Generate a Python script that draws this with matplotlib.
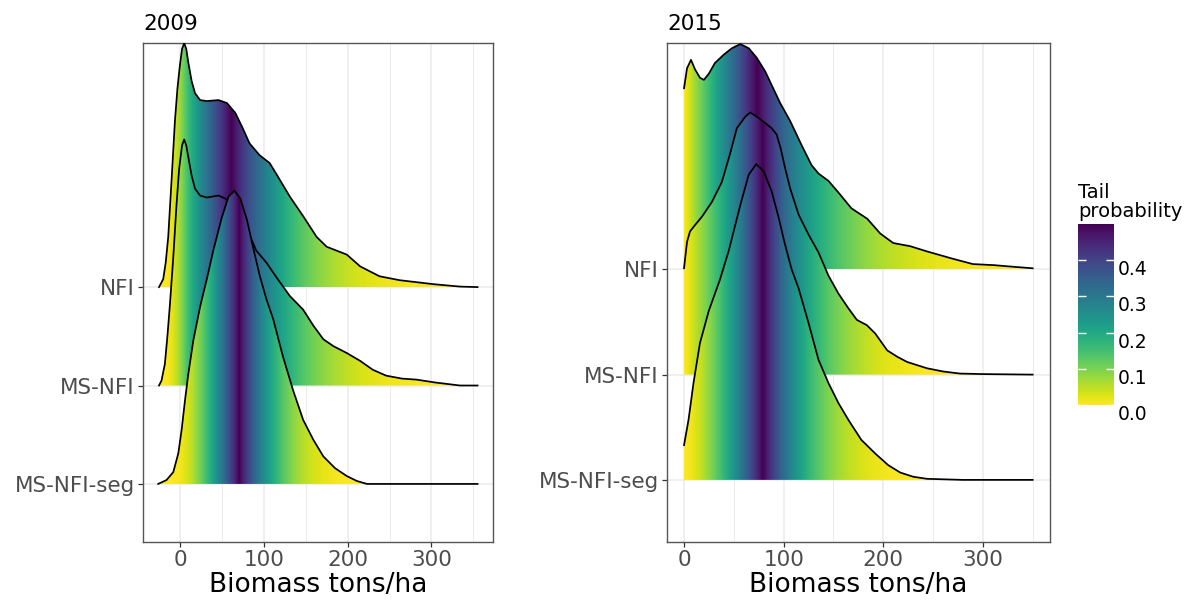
import numpy as np
import matplotlib.pyplot as plt
from matplotlib.patches import Polygon
from matplotlib.colors import Normalize
from matplotlib.cm import ScalarMappable

# Categorias (de abajo hacia arriba)
groups = ["MS-NFI-seg", "MS-NFI", "NFI"]
years = ["2009", "2015"]

# Curvas de densidad (altura en unidades de fila)
# 2009
x09_nfi = [-25, -20, -17, -14, -10, -6, -3, 0, 2.5, 5, 7.5, 10, 14, 18, 24, 32, 46, 56, 66, 74, 83,
           95, 107, 117, 131, 147, 163, 175, 190, 199, 215, 238, 262, 282, 302, 334, 355]
h09_nfi = [0, 0.08, 0.25, 0.51, 1.09, 1.69, 2.02, 2.26, 2.42, 2.48, 2.42, 2.28, 2.09, 1.97, 1.90,
           1.89, 1.90, 1.87, 1.77, 1.63, 1.46, 1.34, 1.26, 1.12, 0.92, 0.72, 0.51, 0.41, 0.36, 0.33,
           0.21, 0.11, 0.07, 0.05, 0.03, 0.005, 0]
x09_ms = [-25, -22, -18, -15, -12, -8, -4, -1, 2.5, 5, 7.5, 10, 14, 18, 24, 32, 46, 54, 62, 72, 82,
          91, 103, 115, 131, 147, 159, 171, 183, 199, 215, 230, 246, 265, 282, 305, 334, 355]
h09_ms = [0, 0.05, 0.22, 0.50, 0.82, 1.30, 1.85, 2.20, 2.44, 2.50, 2.44, 2.32, 2.13, 2.00, 1.93,
          1.91, 1.93, 1.90, 1.84, 1.72, 1.55, 1.37, 1.25, 1.10, 0.91, 0.77, 0.61, 0.47, 0.40, 0.33,
          0.25, 0.16, 0.10, 0.07, 0.06, 0.03, 0.0, 0]
x09_seg = [-26, -16, -8, -2, 2, 6, 10, 16, 24, 32, 40, 50, 58, 65, 72, 80, 87, 95, 103, 111, 123,
           135, 147, 159, 171, 185, 199, 211, 223, 260, 300, 355]
h09_seg = [0, 0.04, 0.12, 0.31, 0.55, 0.85, 1.12, 1.46, 1.80, 2.08, 2.38, 2.71, 2.92, 2.98, 2.90,
           2.68, 2.41, 2.12, 1.88, 1.68, 1.29, 0.95, 0.65, 0.45, 0.28, 0.16, 0.08, 0.03, 0.0, 0, 0, 0]

# 2015
x15_nfi = [0, 3, 7, 11, 16, 20, 25, 31, 40, 48, 56.5, 65, 73, 81.5, 88, 96.5, 106.5, 118, 128, 135,
           145, 155, 168, 184, 197, 210, 227, 244, 270, 290, 311, 330, 350]
h15_nfi = [1.72, 1.91, 1.99, 1.90, 1.82, 1.80, 1.86, 1.96, 2.04, 2.10, 2.14, 2.10, 2.01, 1.88, 1.75,
           1.58, 1.41, 1.18, 0.99, 0.91, 0.84, 0.73, 0.58, 0.48, 0.34, 0.25, 0.22, 0.17, 0.10, 0.05,
           0.04, 0.025, 0.01]
x15_ms = [0, 3, 6, 11, 18, 28, 38, 46, 53, 61.5, 66.5, 73, 81.5, 88, 93, 97, 101.5, 106.5, 115,
          125, 135, 145, 155, 165, 173.5, 183.5, 192, 204, 214, 224, 244, 260, 277, 300, 350]
h15_ms = [1.01, 1.26, 1.36, 1.42, 1.50, 1.64, 1.83, 2.09, 2.34, 2.45, 2.49, 2.45, 2.39, 2.34, 2.28,
          2.15, 1.96, 1.77, 1.52, 1.33, 1.16, 0.94, 0.77, 0.63, 0.52, 0.47, 0.39, 0.23, 0.17, 0.12,
          0.06, 0.03, 0.01, 0.005, 0]
x15_seg = [0, 4.5, 9.5, 16, 25, 36, 45, 56.5, 65, 72.5, 80, 88, 95, 101, 108, 115, 125, 135, 145,
           155, 165, 178, 192, 205, 217, 230, 244, 280, 350]
h15_seg = [0.33, 0.57, 0.92, 1.30, 1.61, 1.90, 2.18, 2.61, 2.90, 3.0, 2.93, 2.74, 2.49, 2.25, 2.0,
           1.82, 1.49, 1.14, 0.92, 0.73, 0.57, 0.38, 0.25, 0.14, 0.07, 0.03, 0.01, 0, 0]

curves = {
    "2009": [(x09_seg, h09_seg), (x09_ms, h09_ms), (x09_nfi, h09_nfi)],
    "2015": [(x15_seg, h15_seg), (x15_ms, h15_ms), (x15_nfi, h15_nfi)],
}

cmap = plt.get_cmap("viridis_r")
norm = Normalize(0, 0.5)
grey30 = "#4D4D4D"


def ridge(ax, x, h, base, z):
    x = np.asarray(x, float)
    h = np.asarray(h, float)
    # probabilidad de cola a partir de la distribucion acumulada
    area = np.concatenate([[0], np.cumsum(np.diff(x) * (h[1:] + h[:-1]) / 2)])
    cdf = area / area[-1]
    xs = np.linspace(x[0], x[-1], 800)
    tail = 0.5 - np.abs(np.interp(xs, x, cdf) - 0.5)
    rgba = cmap(norm(tail))[None, :, :]
    im = ax.imshow(rgba, extent=[x[0], x[-1], base, base + h.max()], aspect="auto",
                   origin="lower", interpolation="bilinear", zorder=z)
    verts = np.column_stack([np.r_[x, x[::-1]], np.r_[base + h, np.full(len(x), base)]])
    poly = Polygon(verts, closed=True, facecolor="none", edgecolor="none", transform=ax.transData)
    ax.add_patch(poly)
    im.set_clip_path(poly)
    ax.plot(x, base + h, color="black", lw=1.25, zorder=z + 0.5, solid_joinstyle="round")


fig = plt.figure(figsize=(11.91, 6.0), dpi=100)
axes_pos = {"2009": [143 / 1191, 58 / 600, 350 / 1191, 499 / 600],
            "2015": [667 / 1191, 58 / 600, 383 / 1191, 499 / 600]}
xlims = {"2009": (-44.1, 373.4), "2015": (-17.1, 367.4)}
ylims = {"2009": (0.41, 5.48), "2015": (0.41, 5.15)}

for year in years:
    ax = fig.add_axes(axes_pos[year])
    for i, (x, h) in enumerate(curves[year]):
        ridge(ax, x, h, i + 1, 10 - 3 * i)

    ax.set_xlim(*xlims[year])
    ax.set_ylim(*ylims[year])
    ax.set_xticks([0, 100, 200, 300])
    ax.set_xticks([50, 150, 250, 350], minor=True)
    ax.set_yticks([1, 2, 3])
    ax.set_yticklabels(groups)
    ax.set_axisbelow(True)
    ax.grid(which="major", color="#EBEBEB", lw=1.1, zorder=0)
    ax.grid(which="minor", axis="x", color="#EBEBEB", lw=0.7, zorder=0)
    ax.tick_params(which="major", length=3.5, width=0.9, color="#333333", pad=2.5,
                   labelsize=15.5, labelcolor=grey30)
    ax.tick_params(which="minor", length=0)
    for s in ax.spines.values():
        s.set_color("#555555")
        s.set_linewidth(1.0)
    ax.set_xlabel("Biomass tons/ha", fontsize=19, color="black", labelpad=1)
    ax.set_title(year, loc="left", fontsize=15.5, color="black", pad=9)

# Barra de color
cax = fig.add_axes([1077.7 / 1191, 195 / 600, 36.3 / 1191, 181 / 600])
sm = ScalarMappable(norm=norm, cmap=cmap)
cb = fig.colorbar(sm, cax=cax, ticks=[0, 0.1, 0.2, 0.3, 0.4], format="%.1f")
cb.outline.set_visible(False)
cax.tick_params(direction="in", color="white", length=5.8, width=1, left=True, right=True,
                labelsize=13.5, labelcolor="black", pad=3)
plt.setp(cax.get_yticklabels(), va="top")
fig.text(1078 / 1191, (600 - 221) / 600, "Tail\nprobability", ha="left", va="bottom",
         fontsize=14, linespacing=1.0)

fig.savefig("out.png", dpi=100)
